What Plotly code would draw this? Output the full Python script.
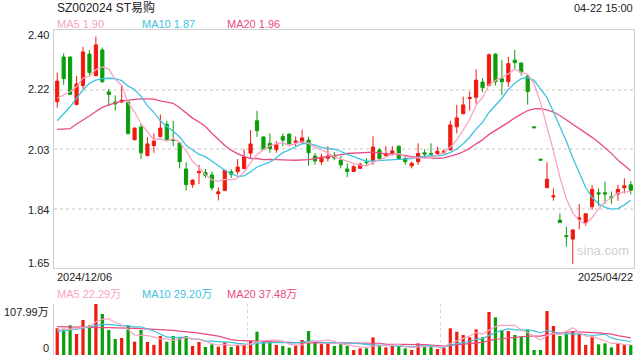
import plotly.graph_objects as go
import pandas as pd

# ---------------- data ----------------
opens = [2.174, 2.315, 2.315, 2.165, 2.225, 2.324, 2.256, 2.337, 2.205, 2.173,
         2.173, 2.173, 2.054, 2.094, 2.004, 2.036, 2.064, 2.103, 2.055, 2.044,
         1.962, 1.913, 1.950, 1.951, 1.943, 1.884, 1.894, 1.953, 1.954, 1.963,
         2.012, 2.114, 2.063, 2.043, 2.023, 2.064, 2.072, 2.046, 2.046, 2.053,
         2.003, 1.985, 1.996, 2.003, 1.990, 1.962, 1.954, 1.964, 1.985, 1.987,
         2.022, 2.004, 2.011, 2.034, 1.995, 1.972, 1.985, 2.013, 2.011, 2.011,
         2.013, 2.022, 2.095, 2.136, 2.184, 2.188, 2.236, 2.225, 2.324, 2.246,
         2.237, 2.305, 2.296, 2.255, 2.095, 1.993, 1.903, 1.874, 1.801, 1.752,
         1.741, 1.803, 1.793, 1.843, 1.887, 1.887, 1.875, 1.883, 1.903, 1.912]
highs = [2.266, 2.326, 2.316, 2.255, 2.347, 2.337, 2.379, 2.345, 2.215, 2.194,
         2.227, 2.174, 2.092, 2.104, 2.062, 2.074, 2.134, 2.114, 2.114, 2.045,
         1.983, 1.929, 1.975, 1.962, 1.954, 1.904, 1.959, 1.961, 1.993, 2.024,
         2.085, 2.145, 2.064, 2.074, 2.050, 2.074, 2.074, 2.064, 2.086, 2.064,
         2.013, 2.010, 2.034, 2.015, 2.003, 1.980, 1.975, 1.982, 1.996, 2.065,
         2.027, 2.034, 2.034, 2.035, 2.001, 1.985, 2.043, 2.024, 2.043, 2.032,
         2.024, 2.114, 2.164, 2.190, 2.206, 2.276, 2.248, 2.326, 2.326, 2.305,
         2.316, 2.337, 2.297, 2.256, 2.095, 1.993, 1.983, 1.901, 1.822, 1.780,
         1.771, 1.852, 1.822, 1.912, 1.901, 1.922, 1.891, 1.912, 1.933, 1.924]
lows = [2.155, 2.227, 2.195, 2.163, 2.214, 2.255, 2.255, 2.234, 2.160, 2.146,
        2.171, 2.072, 2.053, 1.993, 2.003, 2.013, 2.062, 2.053, 2.034, 1.964,
        1.894, 1.903, 1.914, 1.934, 1.894, 1.863, 1.893, 1.934, 1.944, 1.963,
        1.996, 2.063, 2.022, 2.013, 2.013, 2.034, 2.040, 2.034, 2.045, 1.972,
        1.975, 1.975, 1.985, 1.990, 1.964, 1.936, 1.953, 1.963, 1.975, 1.975,
        1.992, 2.003, 2.004, 1.994, 1.975, 1.964, 1.975, 2.001, 2.001, 2.006,
        2.009, 2.021, 2.074, 2.135, 2.146, 2.167, 2.204, 2.224, 2.225, 2.195,
        2.221, 2.277, 2.256, 2.165, 2.092, 1.990, 1.902, 1.862, 1.792, 1.717,
        1.662, 1.772, 1.782, 1.833, 1.845, 1.852, 1.852, 1.862, 1.885, 1.882]
closes = [2.239, 2.247, 2.197, 2.230, 2.331, 2.266, 2.353, 2.237, 2.197, 2.167,
          2.179, 2.073, 2.091, 2.013, 2.041, 2.050, 2.091, 2.055, 2.052, 1.985,
          1.913, 1.927, 1.954, 1.942, 1.903, 1.890, 1.958, 1.945, 1.968, 2.000,
          2.041, 2.083, 2.023, 2.026, 2.038, 2.053, 2.041, 2.050, 2.060, 2.013,
          1.987, 2.000, 2.003, 1.997, 1.975, 1.954, 1.969, 1.977, 1.982, 2.031,
          1.995, 2.011, 2.019, 1.995, 1.985, 1.980, 2.011, 2.009, 2.009, 2.018,
          2.018, 2.101, 2.123, 2.164, 2.187, 2.242, 2.218, 2.322, 2.237, 2.237,
          2.294, 2.297, 2.267, 2.206, 2.092, 1.990, 1.930, 1.877, 1.793, 1.749,
          1.770, 1.808, 1.821, 1.898, 1.883, 1.883, 1.871, 1.898, 1.909, 1.895]
volumes = [56.5, 55.8, 62.9, 44.5, 74.1, 62.9, 107.99, 86.8, 52.9, 33.9,
           36.0, 61.4, 28.2, 52.9, 27.5, 21.2, 40.2, 28.2, 40.2, 37.4,
           40.2, 19.1, 27.5, 16.9, 22.5, 17.6, 27.5, 16.9, 21.2, 21.2,
           30.3, 49.4, 30.3, 28.2, 21.2, 19.1, 15.5, 19.8, 31.7, 50.8,
           28.2, 23.0, 23.6, 19.1, 23.3, 19.1, 10.6, 14.1, 14.1, 37.4,
           19.1, 16.2, 19.1, 19.1, 14.1, 10.6, 24.7, 17.6, 19.1, 12.7,
           15.5, 56.5, 49.4, 42.3, 37.4, 54.3, 37.4, 91.0, 79.7, 52.9,
           50.8, 42.3, 38.8, 52.9, 10.6, 10.6, 93.1, 61.4, 40.2, 44.5,
           49.4, 44.5, 21.2, 37.4, 22.6, 24.7, 16.2, 24.7, 21.2, 21.2]

# moving-average values before the window is full
ma5_head = [2.185, 2.195, 2.206, 2.221]
ma10_head = [2.114, 2.137, 2.158, 2.185, 2.211, 2.232, 2.242, 2.247, 2.248]
ma20_head = [2.087, 2.087, 2.089, 2.104, 2.116, 2.129, 2.143, 2.156, 2.164, 2.171,
             2.176, 2.179, 2.182, 2.183, 2.183, 2.182, 2.177, 2.174, 2.169]
vma5_head = [53.0, 54.0, 55.0, 56.0]
vma10_head = [49.4, 51.0, 53.0, 55.0, 57.0, 60.0, 63.0, 65.0, 65.0]
vma20_head = [60.0, 59.5, 59.0, 58.6, 58.5, 58.2, 58.0, 57.9, 57.9, 57.9,
              57.5, 57.0, 56.5, 56.0, 55.5, 55.0, 54.0, 53.0, 52.2]

title_text = "SZ002024 ST易购"
time_text = "04-22 15:00"
price_legend = ["MA5 1.90", "MA10 1.87", "MA20 1.96"]
vol_legend = ["MA5 22.29万", "MA10 29.20万", "MA20 37.48万"]
price_ticks = [2.40, 2.2125, 2.025, 1.8375, 1.65]
price_tick_text = ["2.40", "2.22", "2.03", "1.84", "1.65"]
vol_ticks = [107.99, 0]
vol_tick_text = ["107.99万", "0"]
date_labels = ["2024/12/06", "2025/04/22"]

# ---------------- styling ----------------
RED = "#f01a0f"
GREEN = "#0a9e0a"
C_MA5 = "#f9a3c3"
C_MA10 = "#3ec3e0"
C_MA20 = "#ea4a84"
FONT = "Liberation Sans, Arial, Noto Sans CJK SC, sans-serif"

n = len(closes)
x = list(range(n))


def with_head(series, window, head):
    vals = pd.Series(series).rolling(window).mean().tolist()
    return head + vals[len(head):]


ma5 = with_head(closes, 5, ma5_head)
ma10 = with_head(closes, 10, ma10_head)
ma20 = with_head(closes, 20, ma20_head)
vma5 = with_head(volumes, 5, vma5_head)
vma10 = with_head(volumes, 10, vma10_head)
vma20 = with_head(volumes, 20, vma20_head)

vol_colors = [RED if c > o else GREEN for o, c in zip(opens, closes)]

fig = go.Figure()
fig.add_trace(go.Candlestick(
    x=x, open=opens, high=highs, low=lows, close=closes,
    increasing=dict(line=dict(color=RED, width=1), fillcolor=RED),
    decreasing=dict(line=dict(color=GREEN, width=1), fillcolor=GREEN),
    whiskerwidth=0, xaxis="x", yaxis="y", showlegend=False,
))
for vals, col in [(ma20, C_MA20), (ma10, C_MA10), (ma5, C_MA5)]:
    fig.add_trace(go.Scatter(x=x, y=vals, mode="lines", line=dict(color=col, width=1.3),
                             xaxis="x", yaxis="y", showlegend=False, hoverinfo="skip"))

fig.add_trace(go.Bar(x=x, y=volumes, marker=dict(color=vol_colors, line=dict(width=0)),
                     width=0.5, xaxis="x2", yaxis="y2", showlegend=False))
for vals, col in [(vma20, C_MA20), (vma10, C_MA10), (vma5, C_MA5)]:
    fig.add_trace(go.Scatter(x=x, y=vals, mode="lines", line=dict(color=col, width=1.2),
                             xaxis="x2", yaxis="y2", showlegend=False, hoverinfo="skip"))

# pixel helpers for plot layout (plot area: x 54..634, y 30..355)
L, R, T, B = 54, 6, 30, 5
H = 360 - T - B
W = 640 - L - R


def py(p):
    return (360 - B - p) / H


def px(p):
    return (p - L) / W


main_dom = [py(268), 1.0]
vol_dom = [0.0, py(304)]

fig.update_layout(
    width=640, height=360,
    margin=dict(l=L, r=R, t=T, b=B),
    paper_bgcolor="white", plot_bgcolor="white",
    font=dict(family=FONT, size=11, color="#333"),
    showlegend=False,
    hovermode=False,
    xaxis=dict(domain=[0, 1], range=[-0.5, n - 0.5], anchor="y",
               showgrid=False, zeroline=False, showticklabels=False,
               showline=True, mirror=True, linecolor="#cfcfcf", linewidth=1,
               rangeslider=dict(visible=False), fixedrange=True),
    yaxis=dict(domain=main_dom, range=[price_ticks[-1], price_ticks[0]], anchor="x",
               tickvals=price_ticks[1:-1], showticklabels=False,
               showgrid=True, gridcolor="#e2e2e2", griddash="dot", gridwidth=2,
               zeroline=False, showline=True, mirror=True, linecolor="#cfcfcf",
               linewidth=1, fixedrange=True),
    xaxis2=dict(domain=[0, 1], range=[-0.5, n - 0.5], anchor="y2",
                tickvals=[(n / 3) - 0.5, (2 * n / 3) - 0.5, n - 0.5],
                showticklabels=False, showgrid=True, gridcolor="#d6d6d6",
                griddash="dot", gridwidth=1, zeroline=False, showline=False,
                fixedrange=True),
    yaxis2=dict(domain=vol_dom, range=[0, vol_ticks[0]], anchor="x2",
                tickvals=[vol_ticks[0]], showticklabels=False, showgrid=True,
                gridcolor="#d6d6d6", griddash="dot", gridwidth=1, zeroline=False,
                showline=True, linecolor="#cfcfcf", linewidth=1, fixedrange=True),
    bargap=0.5,
)

ann = []
ann.append(dict(text=title_text, x=px(55), y=py(8), xanchor="left", yanchor="middle",
                font=dict(size=12, color="#222")))
ann.append(dict(text=time_text, x=px(635), y=py(8), xanchor="right", yanchor="middle",
                font=dict(size=11, color="#222")))
for txt, col, xp in zip(price_legend, [C_MA5, C_MA10, C_MA20], [55, 140, 225]):
    ann.append(dict(text=txt, x=px(xp), y=py(24), xanchor="left", yanchor="middle",
                    font=dict(size=11, color=col)))
for txt, col, xp in zip(vol_legend, [C_MA5, C_MA10, C_MA20], [55, 140, 225]):
    ann.append(dict(text=txt, x=px(xp), y=py(294), xanchor="left", yanchor="middle",
                    font=dict(size=11, color=col)))
label_y = [35, 89, 150, 210, 263]
for txt, yp in zip(price_tick_text, label_y):
    ann.append(dict(text=txt, x=px(51), y=py(yp), xanchor="right", yanchor="middle",
                    font=dict(size=11, color="#222")))
for txt, yp in zip(vol_tick_text, [312, 348]):
    ann.append(dict(text=txt, x=px(51), y=py(yp), xanchor="right", yanchor="middle",
                    font=dict(size=11, color="#222")))
ann.append(dict(text=date_labels[0], x=px(55), y=py(277), xanchor="left", yanchor="middle",
                font=dict(size=11, color="#222")))
ann.append(dict(text=date_labels[1], x=px(635), y=py(277), xanchor="right", yanchor="middle",
                font=dict(size=11, color="#222")))
ann.append(dict(text="sina.com", x=px(603), y=py(250), xanchor="center", yanchor="middle",
                font=dict(size=13, color="#d0d0d0")))
for a in ann:
    a.update(xref="paper", yref="paper", showarrow=False)
fig.update_layout(annotations=ann)

fig.write_html("out.html", config={"displayModeBar": False},
               post_script="document.body.style.margin='0';document.body.style.overflow='hidden';")
